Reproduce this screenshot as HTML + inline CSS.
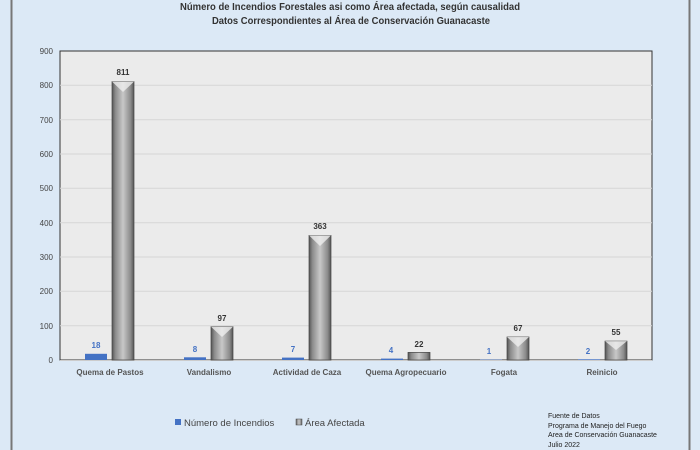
<!DOCTYPE html>
<html><head><meta charset="utf-8"><style>
body{margin:0;width:700px;height:450px;background:#dce9f6;font-family:"Liberation Sans",sans-serif;overflow:hidden;position:relative}
</style></head><body>
<svg width="700" height="450" xmlns="http://www.w3.org/2000/svg" style="position:absolute;left:0;top:0">
<defs>
<linearGradient id="g" x1="0" x2="1" y1="0" y2="0">
<stop offset="0" stop-color="#555"/><stop offset="0.15" stop-color="#8a8a8a"/><stop offset="0.5" stop-color="#c8c8c8"/><stop offset="0.85" stop-color="#8a8a8a"/><stop offset="1" stop-color="#555"/>
</linearGradient>
</defs>
<rect x="0" y="0" width="700" height="450" fill="#dce9f6"/>
<line x1="11.5" y1="0" x2="11.5" y2="450" stroke="#777" stroke-width="2"/>
<line x1="689.5" y1="0" x2="689.5" y2="450" stroke="#777" stroke-width="2"/>
<text x="180" y="10" font-size="10.5" font-weight="bold" fill="#333" textLength="340" lengthAdjust="spacingAndGlyphs">Número de Incendios Forestales asi como Área afectada, según causalidad</text>
<text x="212" y="24" font-size="10.5" font-weight="bold" fill="#333" textLength="278" lengthAdjust="spacingAndGlyphs">Datos Correspondientes al Área de Conservación Guanacaste</text>
<rect x="60" y="51" width="592" height="309" fill="#ebebeb" stroke="#333" stroke-width="1"/>
<g stroke="#d6d6d6" stroke-width="1">
<line x1="60" x2="652" y1="85.3" y2="85.3"/><line x1="60" x2="652" y1="119.7" y2="119.7"/><line x1="60" x2="652" y1="154" y2="154"/><line x1="60" x2="652" y1="188.3" y2="188.3"/><line x1="60" x2="652" y1="222.7" y2="222.7"/><line x1="60" x2="652" y1="257" y2="257"/><line x1="60" x2="652" y1="291.3" y2="291.3"/><line x1="60" x2="652" y1="325.7" y2="325.7"/>
</g>
<line x1="60" x2="652" y1="360.5" y2="360.5" stroke="#ccc"/>
<g font-size="8" fill="#444" text-anchor="end">
<text x="53" y="54">900</text><text x="53" y="88">800</text><text x="53" y="123">700</text><text x="53" y="157">600</text><text x="53" y="191">500</text><text x="53" y="226">400</text><text x="53" y="260">300</text><text x="53" y="294">200</text><text x="53" y="329">100</text><text x="53" y="363">0</text>
</g>
<g fill="#4472c4">
<rect x="85" y="353.8" width="22" height="6.2"/>
<rect x="184" y="357.3" width="22" height="2.7"/>
<rect x="282" y="357.6" width="22" height="2.4"/>
<rect x="381" y="358.6" width="22" height="1.4"/>
<rect x="480" y="359.6" width="22" height="0.4"/>
<rect x="578" y="359.3" width="22" height="0.7"/>
</g>
<g fill="url(#g)" stroke="#444" stroke-width="0.7">
<rect x="112" y="81.6" width="22" height="278.4"/>
<rect x="211" y="326.7" width="22" height="33.3"/>
<rect x="309" y="235.4" width="22" height="124.6"/>
<rect x="408" y="352.4" width="22" height="7.6"/>
<rect x="507" y="337" width="22" height="23"/>
<rect x="605" y="341.1" width="22" height="18.9"/>
</g>
<g fill="#eee" opacity="0.8">
<polygon points="112,81.6 134,81.6 123,92"/>
<polygon points="211,326.7 233,326.7 222,337"/>
<polygon points="309,235.4 331,235.4 320,246"/>
<polygon points="507,337 529,337 518,347"/>
<polygon points="605,341.1 627,341.1 616,350"/>
</g>
<g font-size="8" font-weight="bold" fill="#4472c4" text-anchor="middle">
<text x="96" y="348">18</text><text x="195" y="352">8</text><text x="293" y="352">7</text><text x="391" y="353">4</text><text x="489" y="354">1</text><text x="588" y="354">2</text>
</g>
<g font-size="8" font-weight="bold" fill="#333" text-anchor="middle">
<text x="123" y="75">811</text><text x="222" y="321">97</text><text x="320" y="229">363</text><text x="419" y="347">22</text><text x="518" y="331">67</text><text x="616" y="335">55</text>
</g>
<g font-size="8" font-weight="bold" fill="#555" text-anchor="middle">
<text x="110" y="375">Quema de Pastos</text><text x="209" y="375">Vandalismo</text><text x="307" y="375">Actividad de Caza</text><text x="406" y="375">Quema Agropecuario</text><text x="504" y="375">Fogata</text><text x="602" y="375">Reinicio</text>
</g>
<rect x="175" y="419" width="6" height="6" fill="#4472c4"/>
<text x="184" y="426" font-size="9.5" fill="#444">Número de Incendios</text>
<rect x="296" y="419" width="6" height="6" fill="url(#g)" stroke="#444" stroke-width="0.5"/>
<text x="305" y="426" font-size="9.5" fill="#444">Área Afectada</text>
<g font-size="7" fill="#222">
<text x="548" y="418">Fuente de Datos</text><text x="548" y="428">Programa de Manejo del Fuego</text><text x="548" y="437">Area de Conservación Guanacaste</text><text x="548" y="447">Julio 2022</text>
</g>
</svg>
</body></html>
